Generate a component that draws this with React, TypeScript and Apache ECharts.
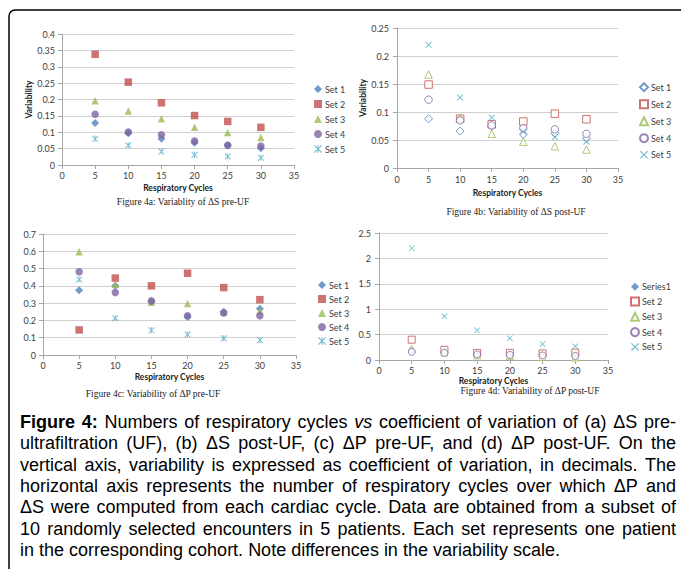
import React, { useEffect, useRef } from "react";
import * as echarts from "echarts";

// ---------- data ----------
const cycles = [5, 10, 15, 20, 25, 30];
const setNames = ["Set 1", "Set 2", "Set 3", "Set 4", "Set 5"];
const setNamesD = ["Series1", "Set 2", "Set 3", "Set 4", "Set 5"];

// Figure 4a: ΔS pre-UF
const aSet1 = [0.128, 0.097, 0.08, 0.068, 0.06, 0.051];
const aSet2 = [0.338, 0.253, 0.19, 0.151, 0.133, 0.115];
const aSet3 = [0.196, 0.165, 0.141, 0.115, 0.099, 0.084];
const aSet4 = [0.155, 0.101, 0.092, 0.073, 0.06, 0.058];
const aSet5 = [0.08, 0.06, 0.041, 0.031, 0.026, 0.022];

// Figure 4b: ΔS post-UF
const bSet1 = [0.088, 0.066, 0.075, 0.06, 0.062, 0.053];
const bSet2 = [0.149, 0.088, 0.078, 0.083, 0.097, 0.087];
const bSet3 = [0.167, 0.09, 0.061, 0.047, 0.039, 0.033];
const bSet4 = [0.122, 0.085, 0.076, 0.071, 0.069, 0.061];
const bSet5 = [0.22, 0.126, 0.09, 0.065, 0.055, 0.047];

// Figure 4c: ΔP pre-UF
const cSet1 = [0.375, 0.4, 0.31, 0.22, 0.25, 0.268];
const cSet2 = [0.145, 0.445, 0.4, 0.473, 0.39, 0.32];
const cSet3 = [0.598, 0.41, 0.305, 0.298, 0.25, 0.255];
const cSet4 = [0.482, 0.361, 0.313, 0.227, 0.243, 0.227];
const cSet5 = [0.437, 0.213, 0.143, 0.118, 0.097, 0.086];

// Figure 4d: ΔP post-UF
const dSet1 = [0.19, 0.14, 0.12, 0.1, 0.1, 0.09];
const dSet2 = [0.4, 0.2, 0.14, 0.14, 0.13, 0.145];
const dSet3 = [0.22, 0.15, 0.09, 0.08, 0.06, 0.05];
const dSet4 = [0.16, 0.14, 0.11, 0.1, 0.09, 0.08];
const dSet5 = [2.2, 0.86, 0.585, 0.43, 0.315, 0.27];

const xTicks = [0, 5, 10, 15, 20, 25, 30, 35];

const subCaptions = [
  "Figure 4a: Variablity of ΔS pre-UF",
  "Figure 4b: Variability of ΔS post-UF",
  "Figure 4c: Variability of ΔP pre-UF",
  "Figure 4d: Variability of ΔP post-UF",
];

const captionLines = [
  "Figure 4: Numbers of respiratory cycles vs coefficient of variation of (a) ΔS pre-",
  "ultrafiltration (UF), (b) ΔS post-UF, (c) ΔP pre-UF, and (d) ΔP post-UF. On the",
  "vertical axis, variability is expressed as coefficient of variation, in decimals. The",
  "horizontal axis represents the number of respiratory cycles over which ΔP and",
  "ΔS were computed from each cardiac cycle. Data are obtained from a subset of",
  "10 randomly selected encounters in 5 patients. Each set represents one patient",
  "in the corresponding cohort. Note differences in the variability scale.",
];

// ---------- styles ----------
const COLORS = ["#4F81BD", "#C0504D", "#9BBB59", "#8064A2", "#4BACC6"];
const STAR = "path://M0 1L1 0L10 9L9 10Z M9 0L10 1L1 10L0 9Z M4.4 0L5.6 0L5.6 10L4.4 10Z";
const XMARK = "path://M0 1L1 0L10 9L9 10Z M9 0L10 1L1 10L0 9Z";
const SHAPES = ["diamond", "rect", "triangle", "circle"];
const LABEL_FONT = "Lato, 'Open Sans', sans-serif";
const SERIF = "'Liberation Serif', 'DejaVu Serif', serif";
const SANS = "'Liberation Sans', Arial, sans-serif";

type Panel = {
  key: string;
  names: string[];
  values: number[][];
  hollow: boolean[];
  markerSize: number;
  yMax: number;
  yInterval: number;
  yName: string;
  grid: { left: number; top: number; width: number; height: number };
  xLabelMargin: number;
  yLabelMargin: number;
  xNameGap: number;
  legend: { left: number; top: number; itemGap: number };
  cap: { x: number; y: number };
};

const panels: Panel[] = [
  {
    key: "a",
    names: setNames,
    values: [aSet1, aSet2, aSet3, aSet4, aSet5],
    hollow: [false, false, false, false, false],
    markerSize: 7.5,
    yMax: 0.4,
    yInterval: 0.05,
    yName: "Variability",
    grid: { left: 62, top: 34, width: 232, height: 131 },
    xLabelMargin: 6,
    yLabelMargin: 7,
    xNameGap: 18,
    legend: { left: 309, top: 79.5, itemGap: 6 },
    cap: { x: 183, y: 202 },
  },
  {
    key: "b",
    names: setNames,
    values: [bSet1, bSet2, bSet3, bSet4, bSet5],
    hollow: [true, true, true, true, false],
    markerSize: 7.5,
    yMax: 0.25,
    yInterval: 0.05,
    yName: "Variability",
    grid: { left: 397, top: 28, width: 221, height: 140 },
    xLabelMargin: 7,
    yLabelMargin: 8,
    xNameGap: 20,
    legend: { left: 634, top: 77.2, itemGap: 7 },
    cap: { x: 516, y: 212 },
  },
  {
    key: "c",
    names: setNames,
    values: [cSet1, cSet2, cSet3, cSet4, cSet5],
    hollow: [false, false, false, false, false],
    markerSize: 7.5,
    yMax: 0.7,
    yInterval: 0.1,
    yName: "",
    grid: { left: 43, top: 234, width: 253, height: 121 },
    xLabelMargin: 6,
    yLabelMargin: 7,
    xNameGap: 17,
    legend: { left: 313, top: 275.5, itemGap: 5 },
    cap: { x: 153, y: 394 },
  },
  {
    key: "d",
    names: setNamesD,
    values: [dSet1, dSet2, dSet3, dSet4, dSet5],
    hollow: [false, true, true, true, false],
    markerSize: 7,
    yMax: 2.5,
    yInterval: 0.5,
    yName: "",
    grid: { left: 379, top: 233, width: 229, height: 127 },
    xLabelMargin: 6,
    yLabelMargin: 8,
    xNameGap: 16,
    legend: { left: 625, top: 277.2, itemGap: 5.3 },
    cap: { x: 530, y: 391 },
  },
];

function buildCaption(): any[] {
  const ctx = document.createElement("canvas").getContext("2d")!;
  const size = 18;
  const fam = '"Liberation Sans", Arial, sans-serif';
  const measure = (t: string, st: string) => {
    const w = st === "b" ? "bold " : "";
    const s = st === "i" ? "italic " : "";
    ctx.font = `${s}${w}${size}px ${fam}`;
    return ctx.measureText(t).width;
  };
  const left = 20;
  const right = 676;
  const lineH = 21.33;
  const y0 = 422;
  const base = { fontSize: size, fontFamily: SANS, fill: "#000" };
  return captionLines.map((line, li) => {
    const words = line.split(" ");
    const styles = words.map((w, wi) => {
      if (li === 0 && wi < 2) return "b";
      if (li === 0 && w === "vs") return "i";
      return "n";
    });
    const total = words.reduce((s, w, wi) => s + measure(w, styles[wi]), 0);
    const justify = li < captionLines.length - 1;
    const gap = justify ? (right - left - total) / (words.length - 1) : measure(" ", "n");
    const text = words.map((w, wi) => `{${styles[wi]}|${w}}`).join("{g| }");
    return {
      type: "text",
      x: left,
      y: y0 + li * lineH,
      style: {
        text,
        align: "left",
        verticalAlign: "middle",
        ...base,
        rich: {
          n: { ...base },
          b: { ...base, fontWeight: "bold" },
          i: { ...base, fontStyle: "italic" },
          g: { ...base, width: gap },
        },
      },
    };
  });
}

function buildOption() {
  const grid: any[] = [];
  const xAxis: any[] = [];
  const yAxis: any[] = [];
  const legend: any[] = [];
  const series: any[] = [];
  const graphic: any[] = [];

  panels.forEach((p, pi) => {
    grid.push({ ...p.grid, containLabel: false });
    xAxis.push({
      type: "value",
      gridIndex: pi,
      min: xTicks[0],
      max: xTicks[xTicks.length - 1],
      interval: xTicks[1] - xTicks[0],
      name: "Respiratory Cycles",
      nameLocation: "middle",
      nameGap: p.xNameGap,
      nameTextStyle: { fontFamily: LABEL_FONT, fontSize: 8.5, fontWeight: "bold", color: "#222" },
      axisLine: { show: true, lineStyle: { color: "#a6a6a6", width: 1 } },
      axisTick: { show: true, length: 4, lineStyle: { color: "#a6a6a6" } },
      axisLabel: { margin: p.xLabelMargin, fontFamily: LABEL_FONT, fontSize: 9, color: "#404040" },
      splitLine: { show: false },
    });
    yAxis.push({
      type: "value",
      gridIndex: pi,
      min: 0,
      max: p.yMax,
      interval: p.yInterval,
      name: p.yName,
      nameLocation: "middle",
      nameGap: 27,
      nameRotate: 90,
      nameTextStyle: { fontFamily: LABEL_FONT, fontSize: 8.5, fontWeight: "bold", color: "#222" },
      axisLine: { show: true, lineStyle: { color: "#a6a6a6", width: 1 } },
      axisTick: { show: true, length: 4, lineStyle: { color: "#a6a6a6" } },
      axisLabel: { margin: p.yLabelMargin, fontFamily: LABEL_FONT, fontSize: 9, color: "#404040" },
      splitLine: { show: true, lineStyle: { color: "#d0d0d0", width: 1 } },
    });
    const names = p.names.map((n) => `${p.key}|${n}`);
    legend.push({
      orient: "vertical",
      left: p.legend.left,
      top: p.legend.top,
      itemGap: p.legend.itemGap,
      itemWidth: 8,
      itemHeight: 8,
      data: names,
      selectedMode: false,
      formatter: (n: string) => n.split("|")[1],
      textStyle: { fontFamily: LABEL_FONT, fontSize: 9, color: "#404040", padding: [0, 0, 0, -2] },
    });
    p.values.forEach((vals, si) => {
      const color = COLORS[si];
      const isX = si === 4;
      const symbol = isX ? (p.hollow.some((h) => h) ? XMARK : STAR) : SHAPES[si];
      const hollow = p.hollow[si];
      series.push({
        type: "scatter",
        name: names[si],
        xAxisIndex: pi,
        yAxisIndex: pi,
        symbol,
        symbolSize: isX ? p.markerSize - 1 : si === 0 ? p.markerSize + 0.5 : p.markerSize,
        data: cycles.map((c, j) => [c, vals[j]]),
        itemStyle: hollow
          ? { color: "#ffffff", borderColor: color, borderWidth: 1 }
          : { color, borderWidth: 0 },
        emphasis: { disabled: true },
      });
    });
    graphic.push({
      type: "text",
      x: p.cap.x,
      y: p.cap.y,
      style: {
        text: subCaptions[pi],
        align: "center",
        verticalAlign: "middle",
        fontFamily: SERIF,
        fontSize: 9.5,
        fill: "#222",
      },
    });
  });

  graphic.push({
    type: "rect",
    shape: { x: 9, y: 10, width: 700, height: 600, r: 6 },
    style: { fill: "none", stroke: "#000", lineWidth: 1.5 },
    silent: true,
  });
  graphic.push(...buildCaption());

  return {
    animation: false,
    backgroundColor: "#ffffff",
    textStyle: { fontFamily: LABEL_FONT },
    grid,
    xAxis,
    yAxis,
    legend,
    series,
    graphic,
  };
}

export default function App() {
  const ref = useRef<HTMLDivElement>(null);
  useEffect(() => {
    if (!ref.current) return;
    const chart = echarts.init(ref.current, null, { renderer: "svg" });
    chart.setOption(buildOption() as any);
    return () => chart.dispose();
  }, []);
  return (
    <div
      ref={ref}
      style={{ position: "absolute", left: 0, top: 0, width: 681, height: 569, background: "#fff" }}
    />
  );
}
